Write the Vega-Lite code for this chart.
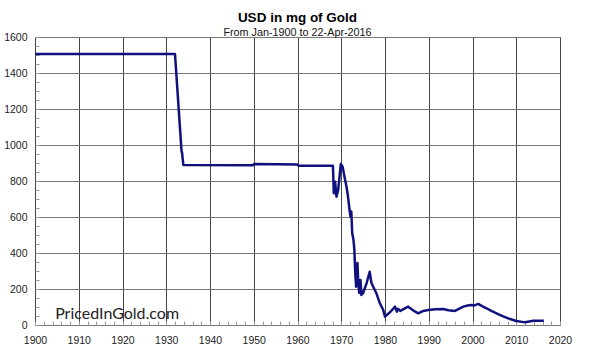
{
  "$schema": "https://vega.github.io/schema/vega-lite/v6.json",
  "width": 525,
  "height": 288,
  "autosize": {"type": "none"},
  "padding": {"left": 35, "top": 37, "right": 30, "bottom": 27},
  "background": "white",
  "config": {
    "font": "Liberation Sans",
    "view": {"stroke": "#888888", "strokeWidth": 1},
    "axis": {"labelFont": "Liberation Sans", "labelFontSize": 10.5, "labelColor": "#222222", "domain": false}
  },
  "title": {
    "text": "USD in mg of Gold",
    "subtitle": "From Jan-1900 to 22-Apr-2016",
    "anchor": "middle",
    "font": "Liberation Sans",
    "fontSize": 13.5,
    "fontWeight": "bold",
    "color": "#000000",
    "subtitleFont": "Liberation Sans",
    "subtitleFontSize": 10.8,
    "subtitleColor": "#111111",
    "subtitlePadding": 3,
    "offset": -6
  },
  "datasets": {
    "gold": [
      {"year": 1900.0, "mg": 1505},
      {"year": 1932.0, "mg": 1505},
      {"year": 1933.5, "mg": 963},
      {"year": 1933.6, "mg": 960},
      {"year": 1933.9, "mg": 889},
      {"year": 1949.8, "mg": 888},
      {"year": 1950.1, "mg": 894},
      {"year": 1955.0, "mg": 893},
      {"year": 1960.0, "mg": 891},
      {"year": 1960.2, "mg": 885},
      {"year": 1968.1, "mg": 885},
      {"year": 1968.3, "mg": 732},
      {"year": 1968.6, "mg": 796},
      {"year": 1968.9, "mg": 713},
      {"year": 1969.3, "mg": 750},
      {"year": 1969.9, "mg": 894},
      {"year": 1970.3, "mg": 880},
      {"year": 1970.8, "mg": 816},
      {"year": 1971.2, "mg": 768},
      {"year": 1971.5, "mg": 722},
      {"year": 1971.9, "mg": 639},
      {"year": 1972.1, "mg": 602},
      {"year": 1972.3, "mg": 630},
      {"year": 1972.5, "mg": 511},
      {"year": 1972.8, "mg": 472},
      {"year": 1973.0, "mg": 417},
      {"year": 1973.2, "mg": 289},
      {"year": 1973.4, "mg": 213},
      {"year": 1973.7, "mg": 344},
      {"year": 1973.9, "mg": 231},
      {"year": 1974.1, "mg": 178},
      {"year": 1974.4, "mg": 250},
      {"year": 1974.6, "mg": 167},
      {"year": 1975.0, "mg": 178},
      {"year": 1975.8, "mg": 233},
      {"year": 1976.5, "mg": 296},
      {"year": 1976.9, "mg": 233},
      {"year": 1978.0, "mg": 178},
      {"year": 1978.8, "mg": 122},
      {"year": 1979.6, "mg": 83},
      {"year": 1980.0, "mg": 46},
      {"year": 1980.4, "mg": 56},
      {"year": 1981.2, "mg": 72},
      {"year": 1982.3, "mg": 102},
      {"year": 1982.7, "mg": 74},
      {"year": 1983.0, "mg": 90},
      {"year": 1983.5, "mg": 78},
      {"year": 1984.0, "mg": 85},
      {"year": 1985.3, "mg": 102},
      {"year": 1986.5, "mg": 80},
      {"year": 1987.6, "mg": 65},
      {"year": 1988.5, "mg": 76},
      {"year": 1989.9, "mg": 83},
      {"year": 1991.5, "mg": 88},
      {"year": 1993.3, "mg": 89},
      {"year": 1994.5, "mg": 82},
      {"year": 1996.0, "mg": 78},
      {"year": 1997.9, "mg": 102},
      {"year": 1998.9, "mg": 108},
      {"year": 1999.8, "mg": 111},
      {"year": 2000.3, "mg": 108},
      {"year": 2001.3, "mg": 117},
      {"year": 2002.2, "mg": 105},
      {"year": 2003.2, "mg": 93},
      {"year": 2004.3, "mg": 78},
      {"year": 2005.5, "mg": 65},
      {"year": 2007.0, "mg": 48},
      {"year": 2008.6, "mg": 33},
      {"year": 2010.0, "mg": 22},
      {"year": 2011.7, "mg": 16},
      {"year": 2012.0, "mg": 15},
      {"year": 2013.9, "mg": 24},
      {"year": 2016.3, "mg": 24}
    ],
    "mark": [
      {"year": 1904.6, "mg": 33, "label": "PricedInGold.com"}
    ]
  },
  "layer": [
    {
      "data": {"name": "gold"},
      "mark": {"type": "line", "color": "#10107f", "strokeWidth": 2.5, "strokeJoin": "round"},
      "encoding": {
        "x": {
          "field": "year", "type": "quantitative",
          "scale": {"domain": [1900, 2020], "nice": false, "zero": false},
          "axis": {
            "title": null,
            "values": [1900,1902,1904,1906,1908,1910,1912,1914,1916,1918,1920,1922,1924,1926,1928,1930,1932,1934,1936,1938,1940,1942,1944,1946,1948,1950,1952,1954,1956,1958,1960,1962,1964,1966,1968,1970,1972,1974,1976,1978,1980,1982,1984,1986,1988,1990,1992,1994,1996,1998,2000,2002,2004,2006,2008,2010,2012,2014,2016,2018,2020],
            "tickCount": 200,
            "labelExpr": "datum.value % 10 === 0 ? datum.value : ''",
            "format": "d",
            "tickSize": -4,
            "tickColor": "#999999",
            "labelPadding": 14,
            "labelFlush": false,
            "labelOverlap": false,
            "grid": true,
            "gridColor": {"condition": {"test": "datum.value % 10 === 0", "value": "#444444"}, "value": "transparent"},
            "gridWidth": 1
          }
        },
        "y": {
          "field": "mg", "type": "quantitative",
          "scale": {"domain": [0, 1600], "nice": false},
          "axis": {
            "title": null,
            "values": [0,50,100,150,200,250,300,350,400,450,500,550,600,650,700,750,800,850,900,950,1000,1050,1100,1150,1200,1250,1300,1350,1400,1450,1500,1550,1600],
            "tickCount": 200,
            "labelExpr": "datum.value % 200 === 0 ? datum.value : ''",
            "tickSize": -4,
            "tickColor": "#999999",
            "labelPadding": 12,
            "labelOverlap": false,
            "labelFlush": false,
            "grid": true,
            "gridColor": {"condition": {"test": "datum.value % 200 === 0", "value": "#777777"}, "value": "transparent"},
            "gridWidth": 1
          }
        }
      }
    },
    {
      "data": {"name": "mark"},
      "mark": {"type": "text", "font": "Lato", "fontSize": 16, "align": "left", "baseline": "alphabetic", "color": "#222222"},
      "encoding": {
        "x": {"field": "year", "type": "quantitative"},
        "y": {"field": "mg", "type": "quantitative"},
        "text": {"field": "label"}
      }
    }
  ]
}
